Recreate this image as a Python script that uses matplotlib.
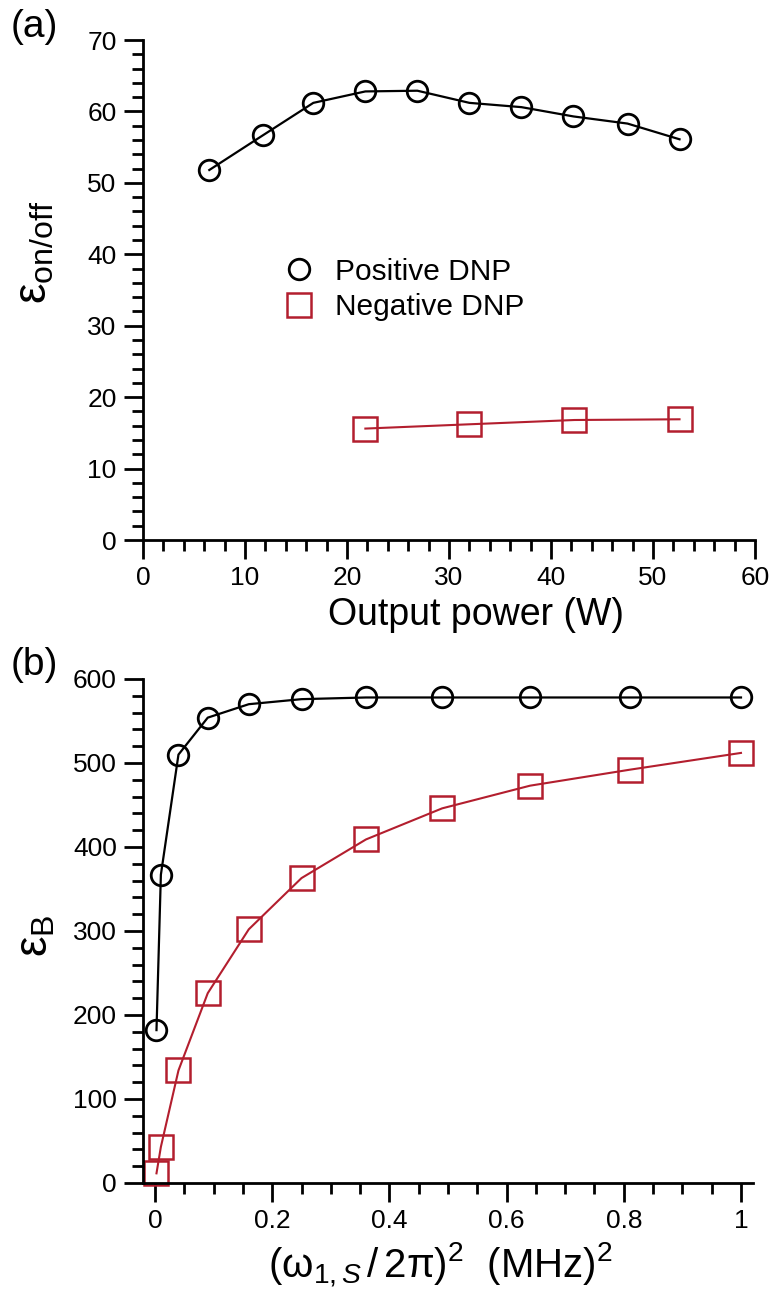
import matplotlib
matplotlib.use("Agg")
import matplotlib.pyplot as plt
from matplotlib.lines import Line2D
from matplotlib.ticker import MultipleLocator, FixedLocator, FuncFormatter

plt.rcParams['font.family'] = ['Liberation Sans', 'DejaVu Sans']
plt.rcParams['mathtext.fontset'] = 'custom'
plt.rcParams['mathtext.rm'] = 'Liberation Sans'
plt.rcParams['mathtext.it'] = 'Liberation Sans:italic'
plt.rcParams['mathtext.bf'] = 'Liberation Sans:bold'

# ---------------- data ----------------
# panel (a)
power_pos = [6.5, 11.8, 16.7, 21.8, 26.9, 32.0, 37.1, 42.2, 47.5, 52.6]
eps_pos = [51.8, 56.7, 61.2, 62.8, 62.9, 61.2, 60.6, 59.3, 58.3, 56.1]
power_neg = [21.8, 32.0, 42.3, 52.6]
eps_neg = [15.6, 16.2, 16.8, 16.9]

# panel (b)
w2_pos = [0.0025, 0.01, 0.04, 0.09, 0.16, 0.25, 0.36, 0.49, 0.64, 0.81, 1.0]
epsB_pos = [182, 367, 510, 554, 570, 576, 578, 578, 578, 578, 578]
w2_neg = [0.0025, 0.01, 0.04, 0.09, 0.16, 0.25, 0.36, 0.49, 0.64, 0.81, 1.0]
epsB_neg = [11.5, 43, 134, 226, 302, 363, 409, 446, 473, 492, 512]

legend_labels = ['Positive DNP', 'Negative DNP']
xticks_a = [0, 10, 20, 30, 40, 50, 60]
yticks_a = [0, 10, 20, 30, 40, 50, 60, 70]
xticks_b = [0, 0.2, 0.4, 0.6, 0.8, 1.0]
yticks_b = [0, 100, 200, 300, 400, 500, 600]

RED = '#B31E2E'
LW_AX = 2.0

fig = plt.figure(figsize=(7.76, 13.02), dpi=100)
ax1 = fig.add_axes([143/776, 1-540/1302, 612/776, 500/1302])
ax2 = fig.add_axes([143.3/776, 1-1183/1302, 609.4/776, 504/1302])


def style(ax):
    for s in ['top', 'right']:
        ax.spines[s].set_visible(False)
    for s in ['left', 'bottom']:
        ax.spines[s].set_linewidth(LW_AX)
    ax.tick_params(which='major', length=14, width=LW_AX, labelsize=19, pad=5)
    ax.tick_params(which='minor', length=8, width=LW_AX)


# ---------- panel a ----------
ax1.plot(power_pos, eps_pos, color='black', lw=1.6, marker='o', ms=14.8,
         mfc='none', mec='black', mew=2.0, clip_on=False)
ax1.plot(power_neg, eps_neg, color=RED, lw=1.5, marker='s', ms=17.5,
         mfc='none', mec=RED, mew=1.8, clip_on=False)
ax1.set_xlim(0, 60)
ax1.set_ylim(0, 70)
ax1.xaxis.set_major_locator(FixedLocator(xticks_a))
ax1.yaxis.set_major_locator(FixedLocator(yticks_a))
ax1.xaxis.set_minor_locator(MultipleLocator(2))
ax1.yaxis.set_minor_locator(MultipleLocator(2))
style(ax1)
ax1.set_xlabel('Output power (W)', fontsize=27, va='baseline')
ax1.xaxis.set_label_coords(0.544, -0.17)
ax1.set_ylabel(r'$\mathrm{\varepsilon}_{\mathrm{on/off}}$', fontsize=33, va='center')
ax1.yaxis.set_label_coords(-0.177, 0.576)

handles = [
    Line2D([], [], ls='none', marker='o', ms=14.8, mfc='none', mec='black', mew=2.0),
    Line2D([], [], ls='none', marker='s', ms=17.5, mfc='none', mec=RED, mew=1.8),
]
ax1.legend(handles, legend_labels, loc='upper left', bbox_to_anchor=(0.235, 0.565),
           frameon=False, fontsize=21.5, handlelength=0.8, handletextpad=0.8,
           labelspacing=0.25, borderpad=0, borderaxespad=0)

# ---------- panel b ----------
ax2.plot(w2_pos, epsB_pos, color='black', lw=1.6, marker='o', ms=14.8,
         mfc='none', mec='black', mew=2.0, clip_on=False)
ax2.plot(w2_neg, epsB_neg, color=RED, lw=1.5, marker='s', ms=17.5,
         mfc='none', mec=RED, mew=1.8, clip_on=False)
ax2.set_xlim(-0.02, 1.02)
ax2.set_ylim(0, 600)
ax2.xaxis.set_major_locator(FixedLocator(xticks_b))
ax2.yaxis.set_major_locator(FixedLocator(yticks_b))
ax2.xaxis.set_minor_locator(MultipleLocator(0.05))
ax2.yaxis.set_minor_locator(MultipleLocator(20))
ax2.xaxis.set_major_formatter(FuncFormatter(lambda v, p: '%g' % v))
style(ax2)
ax2.set_xlabel(r'$(\mathrm{\omega}_{\mathit{1,S}}\,/\,2\mathrm{\pi})^2\ \ \mathrm{(MHz)}^2$',
               fontsize=29, va='baseline')
ax2.xaxis.set_label_coords(0.487, -0.188)
ax2.set_ylabel(r'$\mathrm{\varepsilon}_{\mathrm{B}}$', fontsize=33, va='center')
ax2.yaxis.set_label_coords(-0.177, 0.49)

fig.text(34/776, 1-27/1302, '(a)', fontsize=28, ha='center', va='center')
fig.text(34/776, 1-665/1302, '(b)', fontsize=28, ha='center', va='center')

fig.savefig('out.png', dpi=100)
